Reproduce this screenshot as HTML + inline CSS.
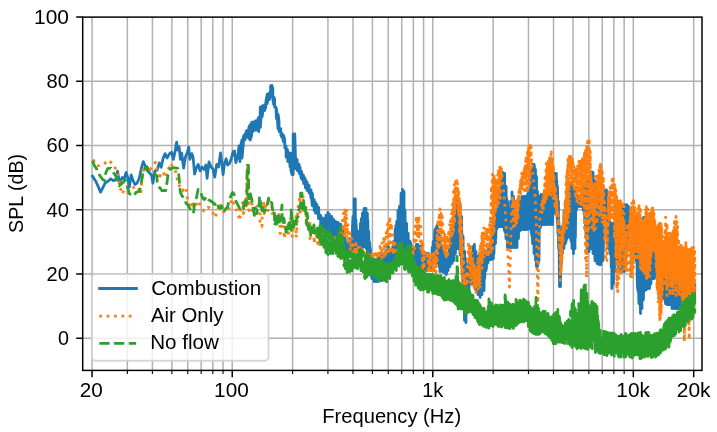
<!DOCTYPE html>
<html><head><meta charset="utf-8"><style>
html,body{margin:0;padding:0;background:#fff;overflow:hidden}
svg{display:block}
.t{font-family:"Liberation Sans", sans-serif;font-size:19.4px;fill:#000}
svg{will-change:transform}
</style></head><body>
<svg width="717" height="432" viewBox="0 0 717 432">
<rect width="717" height="432" fill="#fff"/>
<path d="M92.05 17.10V370.40M127.37 17.10V370.40M152.42 17.10V370.40M171.86 17.10V370.40M187.74 17.10V370.40M201.16 17.10V370.40M212.79 17.10V370.40M223.05 17.10V370.40M232.23 17.10V370.40M292.60 17.10V370.40M327.92 17.10V370.40M352.97 17.10V370.40M372.41 17.10V370.40M388.29 17.10V370.40M401.71 17.10V370.40M413.34 17.10V370.40M423.60 17.10V370.40M432.78 17.10V370.40M493.15 17.10V370.40M528.47 17.10V370.40M553.52 17.10V370.40M572.96 17.10V370.40M588.84 17.10V370.40M602.26 17.10V370.40M613.89 17.10V370.40M624.15 17.10V370.40M633.33 17.10V370.40M693.70 17.10V370.40M82.70 338.28H702.00M82.70 274.05H702.00M82.70 209.81H702.00M82.70 145.57H702.00M82.70 81.34H702.00" stroke="#b0b0b0" stroke-width="1.48" fill="none"/>
<path d="M91.7 174.9L96.2 182.0L100.6 192.1L105.1 183.2L107.7 181.3L110.8 178.8L113.4 180.7L115.9 179.4L117.6 171.1L119.4 183.2L122.3 177.5L124.2 179.0L126.1 172.4L128.0 178.1L129.3 187.0L131.2 174.9L133.1 180.7L135.0 184.5L137.0 183.2L139.5 177.5L141.4 168.0L143.3 161.6L145.2 166.0L147.1 170.5L149.7 173.0L151.6 175.5L152.9 183.2L154.8 171.1L157.3 170.0L159.2 162.8L161.2 167.3L163.1 158.4L165.1 153.6L167.0 158.0L169.6 153.6L171.5 152.3L173.4 159.3L175.3 150.4L176.6 142.1L177.8 150.0L179.1 146.6L180.4 159.3L181.7 153.0L183.6 168.2L185.5 156.8L187.4 152.3L188.7 147.2L189.9 159.3L191.8 153.6L193.1 157.0L194.6 174.0L196.3 168.2L198.2 164.4L200.1 170.8L202.0 167.0L204.0 169.5L205.9 165.0L207.1 178.4L209.0 161.8L211.0 166.9L212.9 168.8L214.8 177.1L216.7 164.4L218.6 167.0L220.5 152.9L221.8 162.5L223.1 174.6L224.3 164.4L226.2 158.7L227.5 165.0L229.4 163.7L231.3 158.7L233.2 151.7L234.5 151.0L235.8 162.5L237.7 156.8L239.0 146.0L240.0 161.6L240.1 148.4L241.9 140.0L242.0 158.0L243.3 144.6L243.4 136.4L244.7 134.4L244.8 140.0L246.0 136.6L246.1 131.4L247.4 130.3L247.5 135.1L248.8 138.6L248.9 127.4L250.2 124.7L250.2 140.0L251.6 135.6L251.7 122.4L253.0 122.0L253.1 131.6L254.6 122.2L255.8 120.6L255.9 130.3L257.3 120.7L258.6 117.4L258.7 131.6L260.1 116.7L260.3 107.2L260.4 127.1L261.8 107.4L262.1 105.8L262.2 116.6L263.5 106.2L264.4 104.9L264.4 110.6L265.8 107.2L265.9 101.6L267.2 94.2L267.2 103.5L268.5 94.8L269.1 93.3L269.2 99.7L270.5 96.0L270.6 85.9L271.8 94.2L271.9 94.2L271.9 85.4L272.8 88.7L272.9 99.7L273.7 104.4L273.8 97.0L274.6 98.8L274.7 107.2L275.8 106.9L276.0 107.2L276.1 111.8L276.5 118.6L276.6 109.4L277.7 124.0L278.0 128.6L278.1 114.4L279.0 120.4L279.1 131.6L280.2 128.4L280.8 128.7L280.9 135.2L282.0 137.5L282.1 133.4L283.1 140.6L283.7 142.1L283.8 135.7L284.8 140.3L284.9 147.9L285.9 146.1L286.0 146.1L286.1 157.2L287.1 149.1L287.7 150.7L287.8 161.6L288.8 155.7L289.8 163.0L290.0 166.6L290.1 153.0L291.0 170.7L292.0 174.6L292.1 153.4L293.0 156.5L293.2 174.6L293.2 134.0L294.2 153.6L294.7 168.6L294.8 134.0L295.5 157.4L295.6 168.6L296.5 160.9L297.2 159.4L297.2 170.6L298.2 163.8L299.1 164.4L299.2 173.6L300.0 167.2L301.0 177.5L301.5 178.6L301.6 171.4L302.4 179.8L303.3 175.0L303.5 175.4L303.6 183.6L304.4 177.4L305.3 179.1L305.4 187.8L306.2 180.8L307.0 190.3L307.2 190.6L307.2 182.4L308.0 190.8L308.9 185.9L309.1 185.5L309.2 192.9L309.9 190.2L310.8 196.3L311.0 198.0L311.1 190.0L311.8 200.6L312.3 205.6L312.4 193.4L313.1 206.2L313.9 201.0L314.2 199.5L314.2 210.6L315.0 202.4L315.5 202.4L315.6 213.3L316.3 203.9L316.8 204.4L316.9 212.6L317.6 210.5L318.3 212.6L318.5 218.6L318.6 207.4L319.2 217.5L320.0 215.9L320.6 215.4L320.7 226.6L321.3 217.1L322.0 229.3L322.5 230.6L322.6 218.4L323.2 231.5L324.0 233.6L324.1 218.4L324.7 233.9L325.4 221.6L326.0 215.4L326.1 234.6L326.7 215.9L327.4 227.9L327.8 236.6L327.9 212.4L328.5 235.6L329.1 225.1L329.5 214.4L329.6 238.6L330.2 223.7L330.8 239.8L331.5 216.7L331.7 216.4L331.8 240.6L332.3 227.3L333.0 239.4L333.5 242.6L333.6 219.4L334.1 232.1L334.8 222.5L335.4 244.4L335.5 244.6L335.6 221.4L336.1 240.5L336.7 229.1L337.3 245.2L338.0 246.6L338.1 222.4L338.6 247.0L339.2 224.5L339.8 236.6L340.4 231.0L340.6 224.1L340.7 248.6L341.2 225.9L341.8 248.9L342.3 229.2L342.9 250.4L343.1 250.6L343.2 231.4L343.7 245.6L344.2 235.8L344.8 250.1L345.0 252.6L345.1 238.4L345.5 251.9L346.1 242.1L346.6 251.5L346.9 254.6L346.9 244.4L347.4 255.4L348.0 250.1L348.2 249.4L348.2 256.6L348.7 245.0L349.3 255.2L349.5 256.6L349.6 238.4L350.0 256.2L350.5 240.6L351.1 249.1L351.5 256.6L351.6 241.4L352.0 249.0L352.5 225.9L353.0 216.4L353.1 256.6L353.5 226.4L354.0 248.9L354.2 248.6L354.2 199.0L354.7 243.9L355.2 216.4L355.3 199.0L355.4 246.6L355.8 219.4L356.3 226.4L356.4 246.6L356.8 230.0L357.3 240.8L357.8 248.6L357.9 237.4L358.3 249.1L358.7 233.2L359.0 231.4L359.1 250.6L359.5 235.3L359.9 249.3L360.4 250.6L360.4 223.4L360.9 248.8L361.3 218.6L361.8 249.0L362.3 248.6L362.4 213.4L362.8 242.0L363.2 212.1L363.6 240.4L364.1 211.3L364.2 208.4L364.2 246.6L364.6 212.4L365.1 229.6L365.5 213.0L366.0 208.4L366.1 248.6L366.4 216.6L366.9 236.6L367.3 213.7L367.4 213.4L367.4 253.6L367.8 219.7L368.2 245.7L368.7 263.6L368.8 231.4L369.1 256.8L369.5 242.0L370.0 246.4L370.1 274.6L370.4 248.9L370.8 269.2L371.2 263.4L371.6 277.4L372.0 278.6L372.1 256.4L372.4 269.2L372.8 266.2L373.2 276.4L373.6 260.8L374.0 259.4L374.1 281.6L374.4 259.5L374.8 281.6L375.2 269.7L375.6 281.0L376.0 264.9L376.4 259.4L376.4 281.6L376.8 259.6L377.2 273.7L377.6 261.9L378.0 280.6L378.4 256.9L378.5 256.4L378.6 281.6L378.9 262.4L379.3 281.1L379.7 255.3L380.1 276.6L380.5 280.6L380.6 253.4L380.9 271.0L381.3 259.8L381.7 279.6L382.0 280.6L382.1 256.4L382.4 268.3L382.8 255.6L383.2 271.0L383.6 254.5L384.0 253.4L384.1 264.6L384.4 254.1L384.8 264.6L385.2 252.4L385.6 263.7L386.0 264.6L386.1 251.4L386.4 262.3L386.8 249.9L387.2 263.6L387.6 254.6L388.0 256.3L388.4 264.6L388.4 246.4L388.8 260.8L389.2 251.7L389.6 261.8L390.0 249.1L390.3 249.4L390.4 264.6L390.7 249.9L391.1 264.6L391.5 256.5L391.9 261.3L392.0 264.6L392.1 251.4L392.4 257.2L392.8 246.1L393.2 260.3L393.5 264.6L393.6 241.4L393.9 261.5L394.3 242.9L394.7 262.9L395.0 264.6L395.1 229.4L395.4 246.1L395.8 225.7L396.2 258.5L396.6 233.5L396.7 221.4L396.8 264.6L397.1 236.9L397.5 251.0L397.9 224.5L398.0 210.4L398.1 264.6L398.4 226.7L398.8 241.0L399.2 210.7L399.5 206.4L399.6 264.6L399.9 217.3L400.3 237.9L400.7 221.7L401.0 193.4L401.1 263.6L401.4 198.5L401.8 239.9L402.2 216.7L402.5 189.4L402.6 260.6L402.9 201.3L403.3 245.2L403.7 195.8L404.0 191.4L404.1 256.6L404.4 209.1L404.8 247.5L405.0 256.6L405.1 211.4L405.4 257.5L405.8 226.2L406.2 240.7L406.5 260.6L406.6 223.4L406.9 247.5L407.3 237.1L407.7 260.3L408.1 241.1L408.2 233.4L408.2 263.6L408.6 240.0L409.0 261.4L409.4 247.7L409.8 264.4L410.0 264.6L410.1 241.4L410.4 258.4L410.8 243.4L411.2 261.0L411.6 247.6L412.0 246.4L412.1 264.6L412.4 247.7L412.8 260.6L413.2 250.9L413.6 261.8L413.9 264.6L413.9 250.4L414.3 258.5L414.7 249.0L415.1 266.5L415.5 247.5L415.9 262.7L416.3 245.1L416.4 244.4L416.4 268.6L416.8 244.7L417.2 258.7L417.6 249.7L418.0 244.4L418.1 268.6L418.4 247.0L418.8 259.2L419.2 246.4L419.6 263.5L420.0 246.2L420.4 266.5L420.8 253.5L421.0 246.4L421.1 268.6L421.4 256.3L421.8 261.1L422.2 250.7L422.6 266.4L423.0 252.0L423.4 270.0L423.8 255.1L424.0 253.4L424.1 270.6L424.4 259.4L424.8 264.4L425.2 257.7L425.6 262.8L426.0 270.6L426.1 253.4L426.4 269.6L426.8 253.6L427.2 268.0L427.6 254.0L428.0 268.6L428.4 268.6L428.4 253.4L428.8 267.6L429.2 257.2L429.6 267.7L430.0 256.0L430.4 265.1L430.8 263.1L431.0 256.4L431.1 270.6L431.4 255.0L431.8 267.8L432.2 247.4L432.6 257.2L433.0 263.6L433.1 241.4L433.4 262.6L433.8 242.9L434.2 256.3L434.6 233.1L435.0 229.4L435.1 258.6L435.4 238.1L435.8 259.4L436.2 227.3L436.6 256.7L437.0 260.6L437.1 225.4L437.4 261.8L437.8 239.4L438.2 263.2L438.6 229.0L439.0 229.4L439.1 266.6L439.4 233.4L439.8 264.0L440.0 271.6L440.1 239.4L440.4 268.5L440.8 247.7L441.2 265.5L441.6 253.1L442.0 245.4L442.1 271.6L442.4 258.7L442.8 266.8L443.2 252.4L443.6 270.4L444.0 272.6L444.1 256.4L444.4 272.7L444.8 258.8L445.2 272.1L445.6 264.5L446.0 274.2L446.3 274.6L446.4 263.4L446.7 273.2L447.1 259.5L447.5 268.0L447.9 256.3L448.0 253.4L448.1 270.6L448.4 254.5L448.8 263.2L449.2 247.9L449.6 260.0L450.0 266.6L450.1 241.4L450.4 254.9L450.8 236.7L451.2 251.5L451.6 240.2L452.0 229.4L452.1 263.6L452.4 226.1L452.8 258.3L453.2 227.0L453.6 242.1L454.0 260.6L454.1 211.4L454.4 255.2L454.8 214.3L455.2 235.1L455.5 253.6L455.6 201.4L455.9 236.0L456.3 223.1L456.7 244.3L457.0 248.6L457.1 200.0L457.4 238.3L457.8 201.2L458.2 236.0L458.5 248.6L458.6 200.4L458.9 233.6L459.3 212.1L459.7 239.8L460.0 253.6L460.1 203.4L460.4 255.2L460.8 230.0L461.2 238.6L461.5 263.6L461.6 216.4L461.9 248.5L462.3 235.0L462.7 273.1L463.0 298.6L463.1 236.4L463.4 301.2L463.8 271.7L464.2 291.4L464.5 320.6L464.6 251.4L464.9 317.1L465.3 258.0L465.7 316.3L466.0 322.6L466.1 263.4L466.4 309.5L466.8 279.0L467.2 302.5L467.5 303.6L467.6 266.4L467.9 299.6L468.3 274.2L468.7 291.6L469.0 288.6L469.1 261.4L469.4 278.7L469.8 258.6L470.2 284.0L470.6 264.2L471.0 253.4L471.1 283.6L471.4 252.3L471.8 283.2L472.2 253.8L472.6 274.2L473.0 283.6L473.1 246.4L473.4 270.9L473.8 254.7L474.2 267.7L474.3 286.6L474.4 244.4L474.7 282.5L475.1 266.1L475.5 289.3L475.9 251.9L476.0 251.4L476.1 290.6L476.4 257.8L476.8 290.6L477.2 264.6L477.6 286.0L478.0 294.6L478.1 256.4L478.4 289.8L478.8 269.6L479.2 289.9L479.6 256.1L480.0 253.4L480.1 297.6L480.4 256.2L480.8 280.8L481.2 269.9L481.6 294.3L482.0 294.6L482.1 251.4L482.4 278.3L482.8 270.5L483.2 286.4L483.6 256.6L484.0 249.4L484.1 290.6L484.4 250.5L484.8 278.0L485.2 254.1L485.6 270.3L486.0 270.6L486.1 251.4L486.4 269.0L486.8 258.5L487.2 263.7L487.6 250.9L488.0 249.4L488.1 262.6L488.4 252.9L488.8 259.1L489.2 248.9L489.6 256.6L489.7 259.6L489.8 246.4L490.1 259.6L490.5 243.4L490.9 257.7L491.3 246.2L491.5 233.4L491.6 259.6L491.9 242.8L492.3 258.0L492.7 228.4L493.1 258.5L493.4 258.6L493.4 219.4L493.8 252.3L494.0 253.6L494.1 226.4L494.4 241.9L494.8 232.1L495.2 242.5L495.5 243.6L495.6 216.4L495.9 238.3L496.3 211.5L496.7 227.2L497.0 228.6L497.1 206.4L497.4 216.7L497.8 197.0L498.2 216.4L498.5 226.6L498.6 188.4L498.9 226.6L499.3 188.1L499.7 225.6L500.0 226.6L500.1 186.4L500.4 216.7L500.8 184.9L501.2 223.7L501.5 226.6L501.6 179.4L501.9 217.2L502.3 176.1L502.7 212.6L503.0 226.6L503.1 172.7L503.4 227.3L503.8 180.3L504.2 228.0L504.5 230.6L504.6 173.4L504.9 231.7L505.3 188.0L505.7 231.9L506.0 238.6L506.1 186.4L506.4 237.4L506.8 198.6L507.2 239.2L507.5 247.6L507.6 201.4L507.9 247.1L508.3 207.6L508.7 240.0L509.0 247.6L509.1 211.4L509.4 239.7L509.8 211.9L510.2 231.6L510.5 247.6L510.6 201.4L510.9 238.5L511.3 215.2L511.7 246.2L512.0 247.6L512.0 192.1L512.4 232.7L512.8 211.9L513.2 226.4L513.5 247.6L513.5 196.4L513.9 245.1L514.3 201.5L514.7 227.5L515.0 247.6L515.0 201.4L515.4 246.5L515.8 225.4L516.2 230.6L516.6 205.8L517.0 206.4L517.0 247.6L517.4 208.8L517.8 233.9L518.2 211.4L518.5 211.4L518.5 238.6L518.9 208.9L519.3 224.5L519.7 206.0L520.0 201.4L520.0 230.6L520.4 209.8L520.8 230.0L521.2 201.0L521.6 222.2L522.0 229.6L522.0 196.4L522.4 229.6L522.8 197.1L523.2 221.9L523.6 210.2L524.0 196.4L524.0 229.6L524.4 212.0L524.8 229.4L525.2 200.6L525.6 220.1L526.0 229.6L526.0 196.4L526.4 225.3L526.8 203.3L527.2 229.0L527.6 194.1L528.0 193.4L528.0 229.6L528.4 192.8L528.8 228.4L529.2 196.6L529.6 222.3L530.0 226.6L530.0 189.4L530.4 221.4L530.8 180.3L531.2 231.2L531.5 233.6L531.5 171.4L531.9 236.2L532.3 192.6L532.5 164.4L532.5 243.6L532.9 204.5L533.3 212.6L533.7 164.6L534.0 164.2L534.0 253.6L534.4 165.7L534.8 216.4L535.2 178.0L535.5 169.4L535.5 260.6L535.9 198.7L536.3 260.6L536.5 266.6L536.5 176.4L536.9 257.4L537.3 198.8L537.5 191.4L537.5 266.6L537.9 199.7L538.3 251.0L538.7 196.2L539.0 197.4L539.0 260.6L539.4 210.7L539.8 228.1L540.2 196.3L540.6 227.3L541.0 223.6L541.0 194.4L541.4 215.8L541.8 196.8L542.2 223.6L542.6 194.8L543.0 194.4L543.0 224.6L543.4 197.8L543.8 224.6L544.2 205.4L544.6 214.1L545.0 224.6L545.0 191.4L545.4 216.4L545.8 203.7L546.2 218.0L546.6 194.1L547.0 191.4L547.0 224.6L547.4 197.4L547.8 220.4L548.2 207.4L548.6 213.9L549.0 224.6L549.0 191.4L549.4 223.5L549.8 205.2L550.2 215.4L550.6 201.4L551.0 191.4L551.0 224.6L551.4 201.5L551.8 221.7L552.2 202.3L552.5 186.4L552.5 224.6L552.9 198.6L553.3 209.8L553.7 190.0L554.0 177.4L554.0 213.6L554.4 186.4L554.8 206.1L555.2 206.6L555.2 173.4L555.6 198.5L556.0 173.5L556.3 173.4L556.3 208.6L556.7 179.8L557.1 214.6L557.5 223.6L557.5 186.4L557.9 233.6L558.3 201.2L558.5 201.4L558.5 248.6L558.9 222.1L559.3 267.8L559.5 286.6L559.5 226.4L559.9 285.1L560.3 259.9L560.5 241.4L560.5 286.6L560.9 249.1L561.3 264.4L561.5 260.6L561.5 241.4L561.9 252.9L562.3 233.5L562.5 226.4L562.5 253.6L562.9 226.6L563.3 248.5L563.7 232.0L564.0 211.4L564.0 248.6L564.4 216.7L564.8 236.1L565.2 215.3L565.5 201.4L565.5 243.6L565.9 219.6L566.3 240.9L566.7 202.1L567.0 191.4L567.0 238.6L567.4 202.9L567.8 236.0L568.2 190.2L568.6 184.4L568.6 236.6L569.0 184.0L569.4 236.5L569.8 186.9L570.3 182.4L570.3 238.6L570.7 182.9L571.1 241.4L571.5 208.8L571.9 238.2L572.0 248.6L572.0 183.4L572.4 241.5L572.8 216.0L573.2 241.8L573.5 253.6L573.5 186.4L573.9 220.3L574.3 201.7L574.7 230.2L575.0 248.6L575.0 191.4L575.4 237.8L575.8 200.0L576.2 210.5L576.5 208.6L576.5 196.4L576.9 208.1L577.3 201.2L577.7 206.9L578.0 206.6L578.0 196.4L578.4 205.5L578.8 196.5L579.2 205.4L579.6 198.3L580.0 196.4L580.0 206.6L580.4 195.4L580.8 201.2L581.2 194.6L581.6 204.6L582.0 206.6L582.0 191.4L582.4 204.9L582.8 191.1L583.2 209.9L583.6 193.3L584.0 187.4L584.0 213.6L584.4 191.6L584.8 220.2L585.2 195.9L585.6 227.7L586.0 233.6L586.0 184.4L586.4 238.4L586.8 183.6L587.2 247.9L587.5 251.6L587.5 179.4L587.9 250.7L588.3 198.8L588.7 245.9L589.0 251.6L589.0 176.4L589.4 220.5L589.8 195.9L590.2 249.1L590.5 248.6L590.5 173.4L590.9 211.6L591.3 206.4L591.6 172.0L591.6 248.6L592.0 172.3L592.4 219.0L592.8 179.8L593.0 172.4L593.0 253.6L593.4 183.4L593.8 218.3L594.2 180.2L594.6 248.3L595.0 260.6L595.0 181.4L595.4 226.9L595.8 204.8L596.2 254.1L596.6 223.8L597.0 189.4L597.0 263.6L597.4 215.1L597.8 250.9L598.2 194.1L598.6 250.9L599.0 264.6L599.0 196.4L599.4 257.6L599.8 199.0L600.2 264.5L600.6 208.0L601.0 199.4L601.0 264.6L601.4 200.3L601.8 256.8L602.2 214.3L602.6 255.1L603.0 260.6L603.0 201.4L603.4 251.6L603.8 204.8L604.2 235.3L604.6 203.6L604.8 190.0L604.8 228.6L605.2 195.4L605.6 209.4L606.0 207.5L606.4 218.2L606.5 228.6L606.5 190.0L606.9 231.5L607.3 199.4L607.5 201.4L607.5 238.6L607.9 223.6L608.3 219.4L608.3 248.6L608.7 229.1L609.1 245.0L609.5 222.8L609.9 252.1L610.0 253.6L610.0 221.4L610.4 252.1L610.8 229.7L611.2 267.4L611.6 235.4L611.8 223.3L611.8 288.6L612.2 241.5L612.6 285.1L613.0 225.2L613.4 254.8L613.5 283.6L613.5 223.3L613.9 256.3L614.3 244.3L614.7 271.6L615.1 225.8L615.5 226.4L615.5 263.6L615.9 227.1L616.3 260.1L616.7 232.0L617.1 263.4L617.3 263.6L617.3 223.4L617.7 259.9L618.1 222.2L618.5 221.4L618.5 271.6L618.9 219.5L619.3 259.2L619.7 223.6L620.0 213.4L620.0 271.6L620.4 224.3L620.8 267.4L621.2 217.9L621.6 270.2L622.0 271.6L622.0 209.4L622.4 267.9L622.8 225.9L623.2 249.2L623.6 207.5L624.0 271.1L624.3 271.6L624.3 206.4L624.7 248.3L625.1 217.1L625.5 204.7L625.5 263.6L625.9 220.9L626.3 254.5L626.7 208.9L627.0 204.7L627.0 248.6L627.4 206.5L627.8 230.9L628.2 208.4L628.5 206.4L628.5 238.6L628.9 215.1L629.3 224.1L629.7 215.5L630.0 216.4L630.0 233.6L630.4 220.6L630.8 233.9L631.2 229.9L631.6 243.5L632.0 248.6L632.0 223.4L632.4 248.0L632.8 224.7L633.2 241.9L633.6 225.9L634.0 226.4L634.0 254.6L634.4 227.5L634.8 250.4L635.2 232.4L635.6 248.9L636.0 254.6L636.0 231.4L636.4 261.7L636.8 245.2L637.2 280.0L637.6 288.6L637.6 236.4L638.0 291.6L638.4 251.9L638.8 301.3L639.0 303.6L639.0 241.4L639.4 303.3L639.8 261.1L640.2 295.7L640.5 313.6L640.5 246.4L640.9 309.6L641.3 247.0L641.7 305.6L642.0 308.6L642.0 246.4L642.4 288.2L642.8 235.8L643.2 300.1L643.5 298.6L643.5 217.4L643.9 276.6L644.3 229.9L644.7 260.6L645.0 290.6L645.0 217.4L645.4 258.6L645.8 249.0L646.2 283.2L646.5 289.6L646.5 221.4L646.9 267.9L647.3 227.1L647.7 285.6L648.0 288.6L648.0 226.4L648.4 283.7L648.8 255.1L649.2 265.3L649.5 288.6L649.5 231.4L649.9 285.6L650.3 239.9L650.7 281.6L651.0 283.6L651.0 241.4L651.4 279.8L651.8 250.4L652.2 277.5L652.5 278.6L652.5 253.4L652.9 278.1L653.3 257.4L653.7 270.6L654.0 278.6L654.0 253.4L654.4 274.8L654.8 262.9L655.2 274.4L655.6 256.1L656.0 256.4L656.0 277.6L656.4 264.3L656.8 274.0L657.2 261.4L657.5 261.4L657.5 288.6L657.9 262.7L658.3 290.0L658.7 270.0L659.0 266.4L659.0 298.6L659.4 271.5L659.8 283.1L660.2 273.0L660.6 287.1L661.0 296.6L661.0 266.4L661.4 297.0L661.8 261.7L662.2 283.1L662.6 298.6L662.6 244.4L663.0 298.4L663.4 244.6L663.8 283.9L664.0 298.6L664.0 244.4L664.4 279.9L664.8 256.3L665.2 294.4L665.5 303.6L665.5 266.4L665.9 303.5L666.3 278.8L666.7 297.2L667.0 304.6L667.0 271.4L667.4 303.6L667.8 273.2L668.2 295.3L668.5 304.6L668.5 273.4L668.9 300.4L669.3 282.5L669.7 302.2L670.0 304.6L670.0 273.4L670.4 303.6L670.8 289.0L671.2 299.5L671.6 278.3L672.0 274.4L672.0 308.6L672.4 279.7L672.8 299.9L673.2 283.9L673.6 295.0L674.0 308.6L674.0 276.4L674.4 305.9L674.8 288.2L675.2 301.8L675.6 289.7L676.0 279.4L676.0 308.6L676.4 289.1L676.8 298.7L677.2 291.7L677.6 295.9L678.0 308.6L678.0 281.4L678.4 302.8L678.8 285.4L679.2 301.0L679.6 290.2L680.0 282.4L680.0 306.6L680.4 284.5L680.8 303.4L681.2 282.6L681.6 298.2L682.0 303.6L682.0 282.4L682.4 293.0L682.8 284.2L683.2 301.5L683.6 283.6L684.0 283.4L684.0 300.6L684.4 284.9L684.8 299.1L685.2 290.9L685.6 299.0L686.0 298.6L686.0 283.4L686.4 297.5L686.8 283.5L687.2 294.5L687.6 287.5L688.0 283.4L688.0 296.6L688.4 283.6L688.8 296.2L689.2 284.7L689.6 293.7L690.0 295.6L690.0 283.4L690.4 290.4L690.8 283.4L691.2 294.9L691.6 283.6L692.0 283.4L692.0 294.6L692.4 283.7L692.8 294.0L693.2 286.2L693.6 292.1L694.0 283.7L694.4 293.5L694.7 293.6L694.8 283.4" fill="none" stroke="#1f77b4" stroke-width="2.78" stroke-linejoin="round" stroke-linecap="butt"/>
<path d="M93.0 159.6L97.5 166.0L103.2 164.4L108.7 160.3L114.0 165.4L117.2 172.4L118.9 179.4L120.1 186.4L121.7 194.0L124.5 190.0L127.4 192.8L130.0 189.0L133.1 187.7L136.0 186.0L138.2 188.3L140.8 194.0L142.7 170.5L147.0 170.0L151.0 168.6L155.4 162.2L156.7 168.6L158.6 175.6L159.2 179.4L161.2 172.4L163.2 172.1L165.7 177.8L168.0 170.0L170.8 163.2L172.7 167.0L175.9 172.1L177.2 179.1L179.5 186.0L182.3 191.2L184.0 189.0L186.1 187.4L186.8 195.0L188.0 202.0L191.2 208.4L192.5 204.0L195.0 206.5L198.2 200.8L200.8 207.1L204.0 211.0L208.4 207.1L212.2 211.6L215.1 217.6L219.9 203.3L222.4 211.0L225.0 212.9L229.4 207.7L232.0 198.9L234.0 204.6L236.4 209.7L240.2 220.6L240.2 211.4L243.0 201.4L243.1 213.6L246.0 208.6L246.1 194.4L247.7 164.4L247.8 198.6L249.0 210.6L249.1 196.4L252.0 201.4L252.1 210.6L255.0 205.4L256.0 206.4L256.1 213.6L259.0 210.3L260.0 206.4L260.1 224.6L262.0 226.6L262.1 216.4L264.0 201.4L264.1 213.6L267.0 201.7L268.0 201.4L268.1 210.6L271.0 205.8L272.0 206.4L272.1 213.6L274.9 212.1L276.0 213.4L276.1 226.6L278.7 214.8L280.0 213.4L280.1 233.6L282.6 221.9L284.0 219.4L284.1 238.6L286.5 225.5L288.0 223.4L288.1 236.6L290.4 219.4L292.0 216.4L292.1 236.6L294.3 219.5L296.0 216.4L296.1 237.6L298.2 206.4L300.0 196.4L300.1 213.6L302.1 196.8L303.0 193.4L303.1 210.6L305.0 205.4L306.0 206.4L306.1 223.6L307.9 216.9L309.8 231.6L310.0 238.6L310.1 223.4L311.8 232.5L313.7 230.2L314.0 226.4L314.1 243.6L315.8 230.8L317.5 242.6L318.0 243.6L318.1 229.4L319.7 236.5L320.0 244.6L320.1 227.4L321.6 229.4L323.0 244.6L323.1 229.4L324.6 241.9L326.0 246.6L326.1 231.4L327.5 240.2L329.0 246.6L329.1 233.4L330.5 235.8L332.0 246.6L332.1 236.4L333.4 237.0L334.8 237.4L335.0 237.4L335.1 244.6L336.4 238.3L337.8 240.1L338.0 244.6L338.1 237.4L339.3 235.7L340.7 231.5L341.0 226.4L341.1 244.6L342.3 221.7L343.5 213.4L343.6 238.6L344.8 210.4L345.0 207.4L345.1 234.6L346.2 213.0L346.5 209.4L346.6 238.6L347.7 224.4L348.0 223.4L348.1 243.6L349.2 229.8L350.0 233.4L350.1 250.6L351.2 238.2L352.0 239.4L352.1 252.6L353.1 241.9L354.0 241.4L354.1 254.6L355.1 245.4L356.0 243.4L356.1 254.6L357.1 245.5L358.0 245.4L358.1 254.6L359.1 248.3L360.0 247.4L360.1 254.6L361.0 249.4L362.0 249.4L362.1 256.6L363.0 250.6L364.0 252.0L365.0 256.6L365.1 251.4L366.0 252.5L367.0 253.4L368.0 253.4L368.1 258.6L368.9 254.3L369.9 253.9L370.8 253.5L371.0 253.4L371.1 259.6L371.9 254.7L372.8 258.9L373.7 254.7L374.0 253.4L374.1 259.6L374.9 253.7L375.8 255.3L376.6 253.0L377.0 251.4L377.1 258.6L377.9 251.5L378.7 253.7L379.5 249.4L380.0 246.4L380.1 258.6L380.8 246.5L381.6 257.2L382.0 258.6L382.1 241.4L382.8 239.4L383.6 240.7L384.0 236.4L384.1 258.6L384.8 235.4L385.6 246.6L386.0 256.6L386.1 231.4L386.8 236.2L387.5 225.6L388.0 223.4L388.1 254.6L388.8 224.4L389.5 221.0L389.8 253.6L389.9 218.9L390.5 224.1L391.3 229.5L391.5 223.4L391.6 253.6L392.2 231.4L393.0 236.4L393.1 254.6L393.7 240.7L394.4 242.6L395.0 254.6L395.1 243.4L395.7 247.3L396.4 249.2L397.0 249.4L397.1 254.6L397.7 250.1L398.4 252.0L399.0 256.6L399.1 251.4L399.7 255.8L400.3 251.7L401.0 253.6L401.6 252.7L402.0 251.4L402.1 258.6L402.6 252.3L403.3 252.4L403.9 252.0L404.5 251.5L405.0 260.6L405.1 251.4L405.6 256.4L406.2 253.4L406.8 256.2L407.5 252.5L408.0 251.4L408.1 260.6L408.6 251.5L409.2 254.5L409.8 253.2L410.4 251.4L411.0 260.6L411.1 251.4L411.6 254.7L412.2 250.6L412.7 248.2L413.0 256.6L413.1 246.4L413.6 245.3L414.1 235.0L414.5 229.4L414.6 248.6L415.1 229.6L415.6 221.2L416.2 221.1L416.4 215.4L416.4 240.6L416.9 220.3L417.5 235.9L418.0 217.5L418.6 233.7L418.8 238.6L418.9 215.3L419.3 226.8L419.9 223.0L420.4 225.9L420.7 248.6L420.8 226.4L421.2 249.0L421.7 239.1L422.2 259.2L422.6 270.6L422.7 241.4L423.1 270.3L423.6 251.0L424.0 251.4L424.1 272.6L424.5 255.5L425.0 256.6L425.5 252.4L426.0 252.8L426.5 253.5L427.0 253.9L427.4 256.7L428.0 251.4L428.1 273.6L428.5 254.5L429.0 269.3L429.4 254.3L429.9 266.3L430.4 256.7L430.8 264.0L431.0 273.6L431.1 251.4L431.5 267.6L431.9 252.5L432.4 252.7L432.8 255.3L433.3 271.7L433.7 255.3L434.0 253.4L434.1 273.6L434.4 256.7L434.9 256.5L435.3 257.0L435.8 264.7L436.0 272.6L436.1 251.4L436.4 265.4L436.9 240.2L437.3 233.5L437.5 260.6L437.6 223.4L437.9 226.3L438.4 218.6L438.8 249.7L439.2 212.9L439.6 217.1L439.8 248.6L439.9 208.9L440.2 211.7L440.6 214.8L441.0 213.4L441.1 244.6L441.4 217.1L441.8 221.5L442.0 243.6L442.1 213.4L442.4 223.6L442.8 224.0L443.2 235.5L443.5 250.6L443.6 229.4L443.9 248.0L444.3 234.5L444.7 234.3L445.0 254.6L445.1 235.4L445.4 254.1L445.8 237.7L446.2 238.1L446.3 257.6L446.4 237.4L446.7 239.1L447.1 236.8L447.5 235.4L447.6 254.6L447.9 238.8L448.3 247.4L448.6 233.3L449.0 229.4L449.1 250.6L449.4 229.7L449.7 224.8L450.1 224.2L450.5 219.4L450.6 243.6L450.9 220.8L451.2 222.7L451.5 238.6L451.6 213.4L451.9 223.5L452.2 211.7L452.5 204.4L452.6 233.6L452.9 205.2L453.2 202.9L453.5 230.6L453.6 191.4L453.9 194.9L454.2 187.2L454.5 184.4L454.6 223.6L454.9 187.3L455.2 203.4L455.5 208.6L455.6 181.4L455.8 183.8L456.2 184.9L456.5 192.5L456.7 203.6L456.8 180.6L457.0 181.8L457.4 185.4L457.5 183.4L457.6 198.6L457.8 186.5L458.2 199.7L458.5 213.6L458.6 189.4L458.8 217.5L459.2 197.4L459.5 196.4L459.6 233.6L459.8 201.5L460.2 214.4L460.5 253.6L460.6 206.4L460.8 254.3L461.2 226.6L461.5 221.4L461.6 273.6L461.8 238.9L462.1 268.3L462.5 288.6L462.6 241.4L462.8 252.5L463.1 261.2L463.5 261.4L463.6 298.6L463.8 271.6L464.1 275.0L464.5 310.6L464.6 276.4L464.8 292.7L465.1 288.6L465.5 286.4L465.6 313.6L465.8 289.4L466.1 292.0L466.4 277.5L466.7 271.6L467.0 303.6L467.1 266.4L467.3 284.8L467.6 261.9L467.9 257.6L468.2 247.4L468.5 241.4L468.6 278.6L468.8 248.8L469.1 247.1L469.4 247.1L469.7 263.8L470.0 245.2L470.3 256.8L470.5 283.6L470.6 246.4L470.8 274.2L471.1 257.6L471.4 263.1L471.7 253.0L472.0 260.9L472.2 256.5L472.5 256.4L472.6 286.6L472.8 261.5L473.1 262.9L473.4 263.8L473.6 277.7L473.9 265.0L474.2 266.8L474.5 290.6L474.6 266.4L474.8 286.1L475.1 268.8L475.3 269.4L475.6 272.9L475.9 289.9L476.1 292.6L476.2 271.4L476.4 280.7L476.6 270.0L476.9 281.9L477.2 269.0L477.5 269.1L477.7 262.1L478.0 257.4L478.1 290.6L478.3 257.2L478.5 285.1L478.8 257.7L479.1 284.2L479.3 255.3L479.6 251.1L479.9 256.7L480.0 246.4L480.1 288.6L480.3 248.7L480.5 243.8L480.8 249.7L481.0 248.9L481.3 243.7L481.6 262.2L481.8 237.1L482.0 233.4L482.1 268.6L482.3 233.0L482.5 257.1L482.8 238.2L483.0 240.6L483.3 230.0L483.5 230.3L483.8 234.3L484.0 227.8L484.1 258.6L484.3 232.8L484.5 233.3L484.7 233.8L485.0 235.1L485.2 232.1L485.5 231.9L485.7 231.9L486.0 229.4L486.1 256.6L486.2 235.5L486.5 233.4L486.7 234.4L487.0 229.4L487.2 234.9L487.5 229.4L487.6 256.6L487.7 235.1L488.0 237.6L488.2 229.4L488.5 232.7L488.7 233.3L489.0 227.4L489.1 253.6L489.2 228.1L489.5 225.0L489.7 225.0L489.9 229.3L490.2 224.5L490.5 216.4L490.6 253.6L490.7 219.0L491.0 218.8L491.2 206.0L491.5 186.4L491.6 248.6L491.7 187.8L492.0 183.8L492.2 182.3L492.5 174.4L492.6 248.6L492.7 180.8L493.0 215.8L493.2 175.6L493.4 185.4L493.6 188.7L493.9 179.8L494.0 233.6L494.1 174.4L494.2 180.5L494.4 179.2L494.7 221.9L494.9 179.9L495.1 178.5L495.3 184.2L495.5 179.4L495.6 213.6L495.7 182.9L495.9 201.7L496.2 185.2L496.4 197.5L496.6 183.2L496.8 189.1L497.0 209.6L497.1 179.4L497.2 189.4L497.4 180.5L497.6 178.8L497.9 174.0L498.1 174.3L498.3 175.4L498.5 169.4L498.6 203.6L498.7 173.5L498.9 180.3L499.1 168.5L499.3 182.5L499.6 172.0L499.8 177.9L500.0 164.9L500.2 164.0L500.2 198.6L500.4 170.5L500.6 170.9L500.8 167.7L501.0 178.2L501.2 178.6L501.2 166.4L501.4 168.9L501.6 171.6L501.8 175.3L502.0 175.0L503.5 190.0L505.0 208.0L506.5 230.0L508.0 255.0L509.5 287.0L510.5 250.0L511.5 215.0L512.5 198.0L513.5 226.6L513.5 199.4L513.7 206.2L513.9 205.0L514.0 200.9L514.2 204.3L514.4 221.0L514.6 202.9L514.8 204.6L515.0 226.6L515.0 201.4L515.2 206.9L515.4 203.1L515.5 217.8L515.7 203.0L515.9 201.9L516.1 207.1L516.3 218.0L516.5 224.6L516.5 201.4L516.7 207.0L516.9 204.7L517.0 214.7L517.2 204.9L517.4 214.8L517.6 200.4L517.8 197.8L518.0 220.6L518.0 196.4L518.2 200.8L518.4 197.2L518.5 201.4L518.7 193.2L518.9 195.7L519.0 208.6L519.0 191.4L519.2 195.6L519.4 191.3L519.5 201.7L519.7 187.8L519.9 192.9L520.1 186.5L520.3 188.1L520.5 193.6L520.5 179.4L520.7 185.2L520.9 179.2L521.0 187.2L521.2 179.5L521.4 185.3L521.6 177.2L521.8 173.1L521.8 190.6L522.0 175.1L522.2 174.1L522.3 177.6L522.5 184.6L522.7 175.7L522.9 184.3L523.0 190.6L523.0 176.4L523.2 177.5L523.4 177.6L523.5 177.4L523.7 171.8L523.9 172.0L524.1 170.3L524.3 176.5L524.5 190.6L524.5 166.4L524.7 165.5L524.9 164.6L525.0 180.3L525.2 167.0L525.4 171.6L525.6 165.3L525.8 159.5L526.0 190.6L526.0 156.4L526.2 156.3L526.4 162.4L526.5 160.2L526.7 156.2L526.9 188.7L527.1 159.8L527.3 189.7L527.5 190.6L527.5 149.4L527.7 179.5L527.9 153.6L528.0 164.6L528.2 149.4L528.4 165.2L528.6 147.8L528.8 158.4L529.0 188.6L529.0 144.4L529.2 175.6L529.4 147.6L529.5 148.0L529.7 147.3L529.9 148.7L530.1 183.6L530.1 142.4L530.3 149.7L530.5 146.5L530.6 161.3L530.8 149.7L531.0 146.4L531.0 168.6L531.2 152.8L531.4 153.8L531.5 157.8L531.7 163.8L531.9 163.2L532.0 165.0L533.5 180.0L535.0 195.0L536.0 215.0L537.0 260.0L537.8 303.0L538.6 260.0L539.5 225.0L540.5 212.0L542.0 201.4L542.0 212.6L542.2 202.6L542.4 208.2L542.5 200.2L542.7 199.1L542.9 200.6L543.1 198.2L543.3 199.0L543.5 196.4L543.5 208.6L543.7 194.9L543.9 192.3L544.0 190.9L544.2 203.4L544.4 190.1L544.6 199.4L544.8 183.1L545.0 177.4L545.0 203.6L545.2 181.3L545.4 179.3L545.5 178.7L545.7 185.7L545.9 171.6L546.1 167.7L546.3 171.5L546.4 163.4L546.4 198.6L546.6 169.1L546.8 185.0L546.9 167.8L547.1 195.6L547.3 163.1L547.5 180.1L547.7 167.5L547.8 160.4L547.8 195.6L548.0 168.1L548.2 194.3L548.3 163.5L548.5 159.0L548.7 159.2L548.9 168.3L549.1 161.5L549.2 159.7L549.4 158.7L549.6 169.7L549.8 158.7L549.9 155.4L549.9 195.6L550.1 161.4L550.3 170.4L550.4 163.3L550.6 193.5L550.8 158.2L551.0 154.4L551.2 156.5L551.3 151.8L551.3 195.6L551.5 157.7L551.7 183.0L551.8 160.1L552.0 165.1L552.2 156.2L552.4 156.9L552.5 193.6L552.5 156.4L552.7 178.9L552.9 163.8L553.0 170.7L553.2 168.8L553.4 190.3L553.5 198.6L553.5 166.4L553.7 192.6L553.9 174.5L554.0 178.1L554.2 182.1L554.4 200.2L554.6 186.5L554.8 199.0L555.0 208.6L555.0 186.4L555.2 187.8L555.4 193.2L555.5 190.2L555.7 194.8L555.9 200.4L556.1 194.1L556.3 197.8L556.5 218.6L556.5 196.4L556.7 215.9L556.9 202.6L557.0 211.4L557.2 205.7L557.4 212.7L557.6 211.4L557.8 210.5L558.0 230.6L558.0 211.4L558.2 220.7L558.4 220.4L558.5 226.1L558.7 223.8L558.9 234.3L559.1 230.3L559.2 226.4L559.2 248.6L559.4 231.6L559.6 250.4L559.7 241.7L559.9 245.2L560.1 255.3L560.2 251.4L560.2 280.6L560.4 253.8L560.6 251.8L560.7 253.3L561.0 246.4L561.0 273.6L561.2 247.6L561.4 268.0L561.5 240.8L561.7 241.6L561.9 233.7L562.0 231.4L562.0 258.6L562.2 231.5L562.4 242.4L562.5 232.0L562.7 239.9L562.9 225.0L563.0 223.4L563.0 243.6L563.2 225.9L563.4 223.9L563.5 220.1L563.7 230.6L563.9 217.4L564.0 216.4L564.0 233.6L564.2 215.6L564.4 211.4L564.5 213.4L564.7 225.6L564.9 209.3L565.0 201.4L565.0 230.6L565.2 199.6L565.4 222.8L565.5 200.6L565.7 215.6L565.9 192.1L566.1 183.4L566.3 186.5L566.5 176.4L566.5 228.6L566.7 176.1L566.9 218.2L567.0 171.0L567.2 168.4L567.4 170.5L567.6 213.5L567.8 173.2L568.0 159.4L568.0 223.6L568.2 170.9L568.4 163.3L568.5 164.4L568.7 167.5L568.9 162.0L569.1 155.0L569.3 213.6L569.3 153.2L569.5 157.1L569.7 165.3L569.8 162.9L570.0 165.0L570.2 157.8L570.4 164.9L570.6 166.1L570.7 161.3L571.0 156.4L571.0 183.6L571.2 158.5L571.4 173.7L571.5 160.0L571.7 157.9L571.9 163.3L572.1 159.8L572.3 161.4L572.5 159.4L572.5 183.6L572.7 160.3L572.9 161.4L573.0 166.6L573.2 178.7L573.4 167.6L573.6 187.1L573.8 169.3L574.0 166.4L574.0 188.6L574.2 172.1L574.4 173.8L574.5 171.7L574.7 192.0L574.9 169.3L575.1 182.1L575.3 174.2L575.5 167.4L575.5 198.6L575.7 173.0L575.9 187.1L576.0 167.7L576.2 181.0L576.4 169.1L576.6 183.6L576.8 171.0L577.0 165.4L577.0 203.6L577.2 173.1L577.4 188.6L577.5 169.8L577.7 165.8L577.9 170.5L578.1 187.4L578.3 168.4L578.4 165.6L578.6 167.4L578.8 176.4L579.0 204.6L579.0 161.4L579.2 190.2L579.4 166.2L579.5 166.2L579.7 167.6L579.9 163.3L580.1 164.5L580.3 161.8L580.4 160.2L580.6 167.0L580.8 159.8L581.0 159.4L581.0 204.6L581.2 165.7L581.4 203.3L581.5 168.7L581.7 204.0L581.9 159.8L582.1 168.2L582.3 158.8L582.4 182.5L582.6 167.4L582.8 169.3L583.0 206.6L583.0 158.4L583.2 204.4L583.4 162.5L583.5 165.8L583.7 158.4L583.9 170.0L584.1 169.3L584.3 152.9L584.5 228.6L584.5 151.4L584.7 163.6L584.9 166.5L585.0 214.3L585.2 169.6L585.4 237.3L585.5 258.6L585.5 149.4L585.7 184.4L585.9 171.5L586.0 255.1L586.2 169.3L586.4 149.8L586.6 277.6L586.6 146.4L586.8 173.4L587.0 163.8L587.1 189.8L587.3 155.8L587.5 142.5L587.6 248.6L587.6 141.4L587.8 185.2L588.0 143.7L588.1 140.9L588.3 160.3L588.5 166.9L588.7 154.5L588.9 188.3L589.1 228.6L589.1 138.3L589.3 150.0L589.5 153.6L589.6 198.1L589.8 153.4L590.0 185.3L590.2 213.6L590.2 151.4L590.4 187.9L590.6 173.4L590.7 196.3L590.9 175.0L591.1 197.9L591.2 218.6L591.2 176.4L591.4 207.0L591.6 179.8L591.7 199.6L591.9 187.5L592.1 188.1L592.3 185.0L592.5 186.4L592.5 230.6L592.7 195.8L592.9 208.8L593.0 191.5L593.2 219.2L593.4 195.0L593.6 218.4L593.8 185.3L594.0 183.4L594.0 230.6L594.2 188.3L594.4 217.5L594.5 189.7L594.7 182.7L594.9 190.1L595.1 215.4L595.3 186.1L595.5 176.4L595.5 228.6L595.7 180.6L595.9 184.0L596.0 183.8L596.2 187.3L596.4 187.4L596.6 224.5L596.8 183.7L597.0 176.4L597.0 223.6L597.2 180.8L597.4 205.1L597.5 177.0L597.7 198.0L597.9 177.9L598.1 182.1L598.3 182.3L598.4 211.0L598.6 178.4L598.8 195.4L599.0 169.5L599.2 174.2L599.3 218.6L599.3 166.4L599.5 214.6L599.7 167.2L599.8 176.2L600.0 166.6L600.2 176.5L600.4 164.5L600.6 181.4L600.7 213.6L600.8 163.6L600.9 209.5L601.1 170.1L601.2 177.8L601.4 170.6L601.6 171.6L601.8 179.9L602.0 180.3L602.2 223.6L602.2 169.4L602.4 212.1L602.6 178.9L602.7 186.9L602.9 182.3L603.1 190.8L603.3 178.1L603.4 176.4L603.4 205.6L603.6 184.8L603.8 191.9L603.9 191.2L604.1 226.9L604.3 204.6L604.5 201.4L604.5 238.6L604.7 206.0L604.9 223.0L605.0 215.9L605.2 229.8L605.4 224.0L605.5 219.4L605.5 260.6L605.7 220.0L605.9 225.3L606.0 222.6L606.2 219.7L606.4 226.2L606.6 222.9L606.8 223.7L607.0 219.4L607.0 260.6L607.2 221.7L607.4 243.4L607.5 213.5L607.7 236.6L607.9 206.8L608.1 224.4L608.3 223.6L608.3 196.4L608.5 212.6L608.7 194.5L608.8 217.6L609.0 192.3L609.2 197.1L609.4 191.9L609.5 189.4L609.5 220.6L609.7 192.7L609.9 206.3L610.0 193.0L610.2 214.0L610.4 187.1L610.6 206.3L610.8 185.9L611.0 183.4L611.0 220.6L611.2 186.4L611.4 219.6L611.5 186.3L611.7 189.5L611.9 187.9L612.1 179.8L612.2 220.6L612.2 179.4L612.4 185.3L612.6 183.9L612.7 179.1L612.9 185.8L613.1 216.2L613.2 220.6L613.2 178.8L613.4 215.7L613.6 182.6L613.7 188.5L613.9 184.6L614.1 192.7L614.3 183.7L614.5 181.4L614.5 238.6L614.7 188.0L614.9 219.1L615.0 189.2L615.2 187.3L615.4 196.6L615.6 219.3L615.8 258.6L615.8 189.4L616.0 229.2L616.2 205.8L616.3 253.1L616.5 195.0L616.7 196.4L616.8 288.6L616.9 208.0L617.1 289.6L617.2 208.6L617.4 199.1L617.6 217.1L617.8 199.2L617.8 294.6L618.0 200.4L618.2 252.1L618.3 214.2L618.5 200.8L618.7 214.9L618.9 199.5L619.0 278.6L619.0 199.4L619.2 233.2L619.4 203.9L619.5 236.6L619.7 200.0L619.9 254.4L620.1 201.0L620.3 263.2L620.5 273.6L620.5 199.4L620.7 199.6L620.9 200.1L621.0 205.2L621.2 210.0L621.4 220.6L621.6 213.6L621.8 201.7L622.0 270.6L622.0 200.4L622.2 202.2L622.4 215.6L622.5 251.3L622.7 217.3L622.9 245.3L623.1 217.7L623.3 253.8L623.4 219.2L623.6 230.6L623.8 215.9L624.0 206.4L624.0 270.6L624.2 224.4L624.4 250.4L624.5 229.4L624.7 230.1L624.9 231.0L625.0 226.4L625.0 270.6L625.2 231.3L625.4 241.9L625.5 234.4L625.7 232.1L625.9 233.6L626.1 268.7L626.3 232.5L626.4 236.5L626.6 236.6L626.8 226.5L627.0 270.6L627.0 226.4L627.2 236.9L627.4 234.6L627.5 250.5L627.7 235.7L627.9 237.3L628.1 225.9L628.3 225.4L628.4 225.2L628.6 253.0L628.8 229.1L629.0 223.4L629.0 273.6L629.2 227.6L629.4 228.8L629.5 225.1L629.7 242.6L629.9 220.3L630.1 248.7L630.3 227.9L630.5 210.4L630.5 276.6L630.7 214.3L630.9 208.2L631.0 224.5L631.2 276.5L631.4 208.5L631.6 210.7L631.8 211.0L632.0 201.4L632.0 278.6L632.2 205.0L632.4 256.2L632.5 205.2L632.7 222.3L632.9 211.0L633.1 260.8L633.3 215.9L633.4 198.4L633.4 268.6L633.6 205.4L633.8 238.3L633.9 202.1L634.1 223.8L634.3 205.9L634.5 208.6L634.7 208.1L634.8 206.4L634.8 257.6L635.0 216.1L635.2 250.0L635.3 214.0L635.5 231.3L635.7 218.5L635.9 242.0L636.1 225.5L636.2 219.2L636.2 257.6L636.4 223.5L636.6 251.4L636.7 224.1L636.9 229.5L637.1 216.8L637.3 231.6L637.5 257.6L637.5 211.4L637.7 242.6L637.9 217.6L638.0 208.7L638.2 216.7L638.4 252.9L638.6 214.3L638.8 235.9L639.0 260.6L639.0 203.2L639.2 235.9L639.4 214.9L639.5 250.9L639.7 220.8L639.9 213.0L640.1 209.2L640.3 267.3L640.5 268.6L640.5 211.4L640.7 260.3L640.9 233.7L641.0 268.9L641.2 236.5L641.4 263.1L641.6 228.7L641.8 269.6L642.0 270.6L642.0 219.2L642.2 245.3L642.4 224.7L642.5 269.5L642.7 229.3L642.9 271.2L643.1 230.2L643.3 253.1L643.5 271.6L643.5 219.2L643.7 271.8L643.9 220.3L644.0 271.3L644.2 218.9L644.4 263.6L644.6 236.4L644.8 269.6L645.0 276.6L645.0 216.4L645.2 262.0L645.3 240.2L645.4 255.9L645.6 217.4L645.7 251.3L645.8 212.2L646.0 255.0L646.1 209.6L646.2 274.7L646.3 208.0L646.5 206.7L646.5 278.6L646.6 218.3L646.8 278.2L646.9 220.5L647.0 277.6L647.1 223.9L647.3 269.9L647.4 211.7L647.5 277.9L647.7 228.8L647.8 277.3L648.0 278.6L648.0 209.4L648.1 274.6L648.3 238.9L648.4 251.9L648.5 228.3L648.6 264.2L648.8 235.0L648.9 254.5L649.0 234.6L649.2 258.8L649.3 218.4L649.5 213.4L649.5 276.6L649.6 231.0L649.8 268.8L649.9 222.2L650.0 270.4L650.1 213.2L650.3 254.8L650.4 212.4L650.5 263.9L650.7 231.2L650.8 241.2L651.0 258.6L651.0 211.4L651.1 235.6L651.3 224.9L651.4 254.4L651.5 217.8L651.6 249.0L651.8 208.4L651.9 253.2L652.0 215.8L652.2 248.3L652.3 213.6L652.5 205.3L652.5 250.6L652.6 225.0L652.8 250.5L652.9 207.9L653.0 230.3L653.1 209.1L653.3 247.8L653.4 216.4L653.5 249.2L653.7 214.5L653.8 250.1L654.0 250.6L654.0 213.4L654.1 239.0L654.3 216.5L654.4 242.4L654.5 221.4L654.6 247.7L654.8 220.1L654.9 240.1L655.0 222.2L655.2 241.8L655.3 224.4L655.5 226.1L655.5 253.6L655.6 228.3L655.8 256.4L655.9 232.9L656.0 264.3L656.1 247.3L656.3 269.1L656.4 227.3L656.5 263.9L656.7 238.0L656.8 273.3L657.0 288.6L657.0 226.1L657.1 260.8L657.3 251.2L657.4 289.4L657.5 252.7L657.6 267.2L657.8 224.8L657.9 288.1L658.0 252.4L658.2 294.1L658.3 228.1L658.5 223.4L658.5 303.6L658.6 232.9L658.8 277.3L658.9 222.8L659.0 292.1L659.1 245.1L659.3 272.6L659.4 241.8L659.5 315.3L659.7 242.5L659.8 221.3L659.8 322.6L659.9 248.2L660.1 320.1L660.2 251.8L660.3 301.8L660.4 239.0L660.6 297.6L660.7 240.6L660.8 314.9L661.0 224.1L661.1 314.3L661.2 313.6L661.2 223.4L661.3 306.9L661.5 227.8L661.6 292.5L661.7 228.6L661.9 301.4L662.0 239.9L662.1 277.1L662.2 240.3L662.4 292.6L662.6 288.6L662.6 236.4L662.7 266.2L662.9 245.6L663.0 266.9L663.1 252.7L663.2 267.3L663.4 255.9L663.5 273.1L663.6 258.2L663.8 275.0L664.0 283.6L664.0 244.2L664.1 263.9L664.3 258.2L664.4 283.0L664.5 240.9L664.6 261.1L664.8 243.0L664.9 273.1L665.0 231.5L665.2 283.4L665.3 227.7L665.4 283.6L665.6 283.6L665.6 217.1L665.7 283.8L665.9 225.4L666.0 280.2L666.1 233.2L666.2 277.1L666.4 240.9L666.5 280.1L666.6 244.1L666.8 293.6L667.0 295.6L667.0 223.4L667.1 285.9L667.3 254.7L667.4 271.6L667.5 248.6L667.6 258.5L667.8 231.8L667.9 273.6L668.0 250.7L668.2 272.5L668.3 241.2L668.5 238.4L668.5 268.6L668.6 238.5L668.8 273.2L668.9 253.0L669.0 266.8L669.1 249.6L669.3 263.9L669.4 243.0L669.5 268.8L669.7 251.2L669.8 286.0L670.0 295.6L670.0 233.4L670.1 286.7L670.3 234.3L670.4 283.2L670.5 251.8L670.6 283.9L670.8 254.5L670.9 278.3L671.0 237.9L671.2 272.7L671.3 231.9L671.5 231.7L671.5 268.6L671.6 239.2L671.8 272.6L671.9 235.2L672.0 261.9L672.1 236.5L672.3 279.6L672.4 232.0L672.5 287.3L672.7 250.5L672.8 284.9L673.0 295.6L673.0 231.4L673.1 290.4L673.3 247.3L673.4 280.3L673.5 229.5L673.6 257.6L673.8 230.8L673.9 276.3L674.0 249.7L674.2 270.1L674.3 228.1L674.5 221.4L674.5 268.6L674.6 238.3L674.8 262.2L674.9 221.8L675.0 277.9L675.1 219.4L675.3 282.0L675.4 236.7L675.5 282.5L675.7 227.7L675.8 288.9L676.0 295.6L676.0 216.4L676.1 293.2L676.3 253.5L676.4 273.2L676.5 235.6L676.6 271.4L676.8 221.7L676.9 260.0L677.0 243.6L677.2 273.2L677.3 242.4L677.5 226.4L677.5 268.6L677.6 248.0L677.8 272.6L677.9 249.7L678.0 277.9L678.1 247.4L678.3 260.5L678.4 238.4L678.5 282.6L678.7 241.2L678.8 285.0L679.0 295.6L679.0 245.4L679.1 294.5L679.3 251.2L679.4 291.7L679.5 246.2L679.6 280.4L679.8 246.6L679.9 287.8L680.0 247.1L680.2 283.3L680.3 254.4L680.5 245.4L680.5 283.6L680.6 252.1L680.8 279.4L680.9 255.5L681.0 287.2L681.1 255.7L681.3 291.3L681.4 245.6L681.5 286.2L681.7 255.9L681.8 294.6L682.0 298.6L682.0 245.4L682.1 274.2L682.3 245.9L682.4 286.1L682.5 254.9L682.6 299.4L682.8 251.9L682.9 315.7L683.0 252.8L683.2 303.4L683.3 267.3L683.4 299.0L683.6 249.8L683.7 319.5L683.8 246.8L683.9 327.2L684.1 254.4L684.3 246.4L684.3 342.2L684.4 275.2L684.6 336.0L684.7 244.9L684.8 313.8L684.9 270.1L685.1 324.5L685.2 261.2L685.3 318.0L685.5 268.8L685.6 298.5L685.8 308.6L685.8 240.3L685.9 306.5L686.1 245.9L686.2 283.7L686.3 270.8L686.4 304.7L686.6 248.8L686.7 302.9L686.8 271.2L687.0 275.9L687.1 249.9L687.2 280.4L687.4 247.6L687.5 246.4L687.5 298.6L687.6 266.2L687.8 303.9L687.9 250.0L688.0 302.2L688.1 266.0L688.3 309.6L688.4 248.4L688.5 323.7L688.7 249.4L688.8 326.7L688.9 266.8L689.1 334.7L689.2 339.6L689.2 249.4L689.3 299.9L689.5 267.0L689.6 323.6L689.7 262.2L689.9 294.5L690.0 252.7L690.1 297.6L690.2 262.4L690.4 285.1L690.5 298.6L690.5 251.4L690.6 288.0L690.8 250.5L690.9 280.1L691.0 250.5L691.1 288.7L691.3 248.8L691.4 282.0L691.5 264.5L691.7 280.8L691.8 258.9L692.0 245.8L692.0 296.6L692.1 267.0L692.3 289.4L692.4 264.3L692.5 294.6L692.6 246.3L692.8 295.2L692.9 249.9L693.0 281.2L693.2 261.0L693.3 294.3L693.5 296.6L693.5 245.8L693.6 281.4L693.8 266.7L693.9 291.9L694.0 259.4L694.1 293.0L694.3 252.9L694.4 293.4L694.5 252.9L694.7 251.4L694.8 293.6" fill="none" stroke="#ff7f0e" stroke-width="2.78" stroke-linejoin="round" stroke-dasharray="2.78 4.59"/>
<path d="M92.4 160.9L94.3 165.4L96.8 169.2L99.4 174.9L102.6 179.4L104.5 180.7L105.7 173.0L107.7 168.6L110.8 168.0L113.4 172.4L115.9 176.2L117.2 180.0L119.1 185.8L122.3 183.2L125.5 180.0L127.4 187.0L129.3 193.4L131.2 195.3L133.8 196.0L136.3 192.1L139.5 191.5L140.8 185.8L142.1 178.1L143.3 169.2L144.6 168.6L147.1 166.7L148.4 170.5L151.0 172.4L154.2 173.7L156.7 175.6L157.3 182.0L159.2 187.0L161.9 190.6L165.7 190.6L167.0 182.3L168.3 172.7L170.2 168.9L174.0 167.6L177.8 168.3L179.1 177.8L179.7 186.8L180.4 192.5L182.3 196.3L184.2 198.2L186.1 203.3L188.0 205.2L191.2 211.0L192.5 213.5L193.8 211.6L194.4 203.3L196.3 198.2L198.2 189.3L200.8 192.5L202.7 198.2L204.5 199.5L206.5 196.3L208.4 199.5L210.3 200.8L212.2 202.0L214.8 204.6L216.7 202.0L218.0 206.0L219.9 208.4L221.8 206.0L223.7 212.2L225.6 209.0L227.5 207.1L229.4 199.5L231.3 195.0L232.6 192.5L234.0 194.0L235.8 200.8L237.3 204.0L239.0 207.1L240.2 210.4L240.2 209.8L243.1 208.2L243.5 208.6L243.6 204.8L246.0 198.1L246.1 205.3L247.0 198.6L247.1 165.4L248.5 165.4L248.6 198.6L249.5 198.6L249.6 191.4L251.9 199.8L252.0 202.0L254.4 215.4L254.5 208.1L256.9 209.8L256.9 213.7L259.4 202.0L259.4 196.4L261.8 209.1L261.9 210.4L261.9 206.4L264.2 211.1L264.4 212.0L264.4 209.8L266.6 209.8L266.9 209.6L266.9 206.4L268.6 198.1L268.7 203.6L270.7 202.2L272.0 203.1L272.1 207.0L274.0 215.5L274.5 213.2L274.6 225.4L276.5 219.2L277.0 216.5L277.1 223.7L278.9 215.3L279.5 214.8L279.6 222.1L281.4 209.9L282.0 204.8L282.1 218.7L283.7 225.4L283.8 218.2L285.5 228.8L286.2 232.1L286.2 224.9L287.9 229.1L288.7 228.8L288.8 223.2L290.4 222.0L291.2 230.4L291.2 208.1L292.8 226.7L293.7 227.1L293.8 221.5L295.3 226.5L296.2 227.1L296.2 219.9L297.7 217.1L298.7 215.4L298.8 209.8L300.2 204.8L300.5 205.3L300.6 193.1L302.0 193.1L302.1 208.6L303.4 200.3L303.8 201.4L303.9 212.0L305.2 207.0L306.6 221.9L307.1 225.4L307.2 213.2L308.5 229.4L309.8 223.5L310.5 223.4L310.6 235.5L311.8 227.1L313.1 234.5L313.8 235.5L313.9 224.9L315.1 232.5L316.3 231.4L317.2 228.2L317.2 237.1L318.4 228.1L319.6 237.0L320.0 241.6L320.1 223.4L321.2 243.2L322.0 244.6L322.1 226.4L323.1 246.9L324.0 248.6L324.1 231.4L325.1 241.5L326.0 252.6L326.1 231.4L327.1 252.8L328.0 254.6L328.1 230.4L329.1 253.7L330.1 241.4L330.4 233.4L330.4 253.6L331.4 239.9L332.5 253.5L333.0 253.6L333.1 236.4L334.0 253.1L335.0 238.2L336.0 238.4L336.1 254.6L337.0 237.1L337.9 256.2L338.5 256.6L338.6 233.4L339.4 253.8L340.4 228.6L340.6 226.4L340.7 258.6L341.5 235.1L342.0 236.4L342.1 260.6L342.9 239.3L343.8 264.8L344.5 266.6L344.6 243.4L345.4 268.7L346.3 256.0L347.0 248.4L347.1 272.6L347.9 256.1L348.7 270.3L349.5 274.6L349.6 251.4L350.3 273.1L351.2 252.9L352.0 253.4L352.1 270.6L352.8 253.8L353.6 268.8L354.4 254.2L355.0 254.4L355.1 268.6L355.8 254.9L356.6 268.3L357.1 268.6L357.2 254.4L357.9 268.3L358.6 255.5L359.0 251.4L359.1 268.6L359.7 252.6L360.5 267.8L361.0 270.6L361.1 249.4L361.7 270.7L362.5 254.1L363.0 251.4L363.1 274.6L363.7 259.5L364.4 276.3L365.0 278.6L365.1 253.4L365.7 277.9L366.4 255.6L367.1 275.1L367.3 276.6L367.4 252.4L368.0 269.2L368.7 255.7L369.0 256.4L369.1 274.6L369.7 263.6L370.3 274.6L371.0 260.3L371.6 273.0L371.8 274.6L371.9 258.4L372.4 274.4L373.1 265.6L373.7 272.1L374.0 276.6L374.1 259.4L374.6 276.8L375.3 261.6L375.9 274.4L376.5 259.4L376.9 259.4L376.9 278.6L377.5 259.5L378.1 275.9L378.7 264.9L379.3 278.2L379.5 280.6L379.6 259.4L380.0 258.4L380.1 277.1L380.6 260.4L381.2 275.6L381.8 260.1L382.3 271.6L382.9 269.1L383.2 260.4L383.2 279.6L383.8 263.1L384.3 280.4L384.9 263.4L385.4 275.1L386.0 263.9L386.5 263.4L386.6 281.9L387.0 263.5L387.6 280.5L388.1 267.7L388.7 276.5L389.2 264.0L389.7 263.4L389.8 278.6L390.2 265.6L390.7 272.8L391.3 268.3L391.8 270.6L392.3 261.0L392.8 269.5L393.0 274.6L393.1 258.4L393.5 267.1L394.0 263.4L394.5 268.3L395.0 259.2L395.5 269.5L396.0 261.1L396.2 255.4L396.2 270.6L396.7 256.6L397.2 264.4L397.7 249.8L398.1 267.3L398.6 266.6L398.7 245.4L399.1 265.4L399.5 247.9L400.0 261.7L400.5 243.6L401.0 263.9L401.1 264.1L401.2 242.4L401.6 255.1L402.0 244.4L402.5 257.2L402.9 252.4L403.4 264.2L403.8 258.1L404.3 249.1L404.4 269.0L404.7 253.4L405.2 269.7L405.6 257.6L406.1 268.4L406.5 256.9L406.9 262.9L407.4 246.3L407.6 245.8L407.7 271.6L408.0 245.8L408.5 271.8L408.9 253.8L409.3 263.8L409.7 246.5L410.0 245.8L410.1 272.2L410.4 247.6L410.8 272.2L411.2 258.4L411.7 269.2L412.1 262.5L412.4 255.4L412.4 277.1L412.8 266.7L413.2 273.0L413.6 266.4L414.0 281.1L414.4 261.5L414.8 275.5L415.2 267.7L415.6 283.9L415.7 285.2L415.8 265.4L416.1 285.4L416.5 267.0L416.9 285.2L417.3 268.9L417.6 285.1L418.0 267.3L418.4 287.9L418.8 267.7L419.2 288.6L419.5 267.9L419.9 287.7L420.3 268.4L420.5 268.4L420.6 290.1L420.9 275.6L421.2 287.2L421.6 271.7L422.0 286.3L422.3 270.8L422.7 290.8L423.1 271.1L423.4 289.9L423.8 273.0L424.1 290.6L424.5 273.3L424.8 285.0L425.2 273.2L425.4 273.4L425.4 291.6L425.7 275.3L426.1 290.4L426.4 274.3L426.8 287.1L427.1 274.2L427.5 292.0L427.8 274.1L428.2 283.5L428.5 275.2L428.8 292.2L429.2 282.8L429.5 288.7L429.8 282.7L430.0 274.4L430.1 292.6L430.3 275.4L430.7 286.8L431.0 274.4L431.3 292.6L431.6 280.3L432.0 290.8L432.3 280.3L432.6 292.1L432.8 293.6L432.9 274.4L433.1 286.3L433.4 274.7L433.8 290.0L434.1 275.3L434.4 293.2L434.7 282.4L435.0 275.4L435.1 293.6L435.3 277.1L435.6 287.8L435.9 276.1L436.2 289.1L436.6 283.1L436.9 290.6L437.2 275.9L437.5 275.4L437.6 294.6L437.8 279.7L438.1 286.0L438.4 281.6L438.7 292.9L439.0 276.9L439.3 294.8L439.6 281.1L439.9 294.7L440.2 275.9L440.5 275.4L440.6 295.0L440.8 275.6L441.1 295.5L441.4 277.3L441.7 294.2L442.0 276.5L442.3 295.5L442.5 297.6L442.6 276.4L442.8 291.9L443.1 276.8L443.4 298.7L443.7 280.1L444.0 290.5L444.3 300.1L444.4 277.4L444.6 290.6L444.9 281.3L445.2 299.8L445.5 286.3L445.8 289.1L446.1 286.9L446.4 296.7L446.8 299.6L446.9 278.4L447.1 298.1L447.4 282.3L447.7 293.1L448.0 289.2L448.3 297.1L448.6 281.8L449.0 279.4L449.1 299.6L449.3 280.5L449.6 297.0L449.9 282.8L450.2 299.4L450.5 282.3L450.8 292.0L451.0 300.6L451.1 280.4L451.3 300.2L451.6 281.1L451.9 300.1L452.2 288.0L452.5 300.3L452.8 287.6L453.2 280.4L453.2 301.6L453.5 289.8L453.8 294.0L454.1 287.9L454.4 302.5L454.7 283.5L455.0 281.4L455.1 303.6L455.3 286.6L455.6 303.6L455.9 276.4L456.2 290.6L456.5 281.5L456.8 303.4L457.0 306.6L457.1 256.4L457.3 306.8L457.6 267.9L457.9 306.5L458.3 309.0L458.4 281.4L458.6 304.9L458.9 283.1L459.2 299.9L459.5 288.3L459.8 303.7L460.0 308.6L460.1 283.4L460.3 300.3L460.6 285.4L460.9 304.2L461.2 286.1L461.5 309.1L461.8 285.4L462.0 285.4L462.1 310.6L462.3 293.4L462.6 300.9L462.9 285.9L463.2 305.2L463.5 286.2L463.8 310.1L464.0 312.6L464.1 286.4L464.3 311.5L464.6 297.6L464.9 310.8L465.2 291.0L465.5 312.1L465.8 289.0L466.0 288.4L466.1 314.1L466.3 289.3L466.6 313.6L466.9 288.8L467.2 309.5L467.5 295.6L467.8 307.5L468.0 312.6L468.1 289.4L468.3 311.7L468.6 300.9L468.9 312.2L469.2 292.6L469.5 310.9L469.8 291.5L470.1 302.5L470.4 296.9L470.7 311.5L471.0 311.6L471.1 292.4L471.3 311.8L471.6 299.6L471.9 311.6L472.2 295.1L472.5 313.0L472.8 296.1L473.0 295.4L473.1 314.6L473.3 299.2L473.6 314.6L473.9 300.2L474.2 316.5L474.5 300.5L474.9 298.4L474.9 317.6L475.2 302.0L475.5 317.8L475.8 306.7L476.1 311.1L476.4 304.1L476.7 319.4L477.0 300.4L477.4 300.4L477.4 322.6L477.7 305.3L478.0 322.3L478.3 302.4L478.6 320.8L478.9 303.7L479.2 320.1L479.5 324.6L479.6 304.4L479.8 319.1L480.1 305.5L480.4 321.3L480.7 306.9L481.0 324.4L481.2 325.6L481.2 307.4L481.5 321.0L481.8 316.1L482.1 325.1L482.4 313.0L482.7 325.1L483.0 316.1L483.3 326.1L483.6 312.3L483.8 308.4L483.9 326.6L484.1 308.5L484.4 324.0L484.7 313.7L485.0 319.5L485.3 314.2L485.6 324.6L485.9 310.5L486.3 309.2L486.4 327.6L486.6 311.9L486.9 323.3L487.2 309.8L487.5 321.9L487.8 310.1L488.1 316.6L488.4 306.2L488.7 317.2L488.9 328.1L488.9 299.0L489.2 320.2L489.5 301.6L489.8 319.0L490.1 302.0L490.4 318.6L490.7 311.3L491.0 317.2L491.4 328.1L491.4 301.4L491.7 317.3L492.0 309.1L492.3 324.4L492.6 306.0L493.0 306.4L493.1 326.6L493.3 310.2L493.6 317.8L493.9 306.8L494.2 324.4L494.5 310.5L494.8 315.9L495.0 323.6L495.1 304.4L495.3 323.5L495.6 304.8L495.9 324.3L496.2 307.8L496.5 318.0L496.8 305.5L497.1 319.1L497.4 305.1L497.7 325.5L498.0 308.4L498.4 305.4L498.4 326.6L498.7 311.4L499.0 324.1L499.3 310.2L499.6 325.4L499.9 306.5L500.2 323.9L500.5 304.8L500.8 326.5L501.1 306.0L501.4 322.2L501.7 327.1L501.8 304.4L502.0 326.7L502.3 303.4L502.6 314.8L502.9 306.6L503.2 325.0L503.5 307.9L503.8 320.0L504.1 307.6L504.4 322.7L504.7 302.0L505.1 294.9L505.2 327.6L505.4 296.1L505.7 324.9L506.0 300.3L506.3 326.9L506.6 301.9L507.0 301.4L507.1 327.9L507.3 312.0L507.6 327.4L507.9 302.5L508.2 326.8L508.5 303.3L508.8 328.3L509.1 313.9L509.4 324.8L509.7 304.1L510.0 304.4L510.1 328.6L510.3 307.8L510.6 328.2L510.9 307.2L511.2 317.8L511.5 316.0L511.8 326.7L512.1 311.8L512.4 325.7L512.7 304.5L513.0 326.7L513.3 312.3L513.4 304.4L513.4 328.6L513.7 311.2L514.0 321.5L514.3 314.8L514.6 325.4L514.9 307.8L515.2 318.0L515.5 311.4L515.8 316.0L516.0 325.6L516.0 299.4L516.3 315.5L516.6 301.0L516.9 323.0L517.2 304.4L517.5 324.1L517.8 301.0L518.1 322.1L518.4 300.5L518.7 322.8L519.0 305.0L519.3 321.6L519.6 300.3L519.9 315.2L520.1 322.0L520.1 300.4L520.4 312.3L520.7 300.7L521.0 316.9L521.3 300.0L521.6 321.5L521.9 300.0L522.2 317.4L522.5 303.0L522.8 314.4L523.1 304.2L523.4 315.5L523.5 322.0L523.5 299.1L523.8 313.3L524.1 303.4L524.4 321.4L524.7 300.4L525.0 314.0L525.1 322.0L525.1 300.4L525.4 315.2L525.7 305.4L526.0 313.4L526.3 308.7L526.6 323.0L526.9 301.9L527.2 323.9L527.5 312.3L527.8 317.3L528.1 302.2L528.4 328.4L528.5 328.6L528.5 302.4L528.8 326.5L529.1 314.5L529.4 320.2L529.7 314.0L530.0 330.8L530.2 331.2L530.2 306.4L530.5 330.9L530.8 314.5L531.1 329.6L531.4 309.1L531.7 321.3L531.8 332.6L531.8 308.4L532.1 332.7L532.4 311.0L532.7 323.3L533.0 314.1L533.3 323.2L533.6 308.5L533.9 329.5L534.0 333.6L534.0 307.4L534.3 320.4L534.6 304.6L534.9 331.2L535.2 317.5L535.5 333.9L535.8 309.2L536.0 297.4L536.0 334.6L536.3 308.8L536.6 333.5L536.9 317.6L537.2 324.9L537.5 304.3L537.8 320.3L538.1 317.5L538.4 331.5L538.5 334.6L538.5 308.4L538.8 334.4L539.1 316.7L539.4 329.8L539.7 316.3L540.0 333.7L540.2 333.6L540.2 310.0L540.5 330.8L540.8 317.8L541.1 327.2L541.4 310.8L541.7 331.7L542.0 313.0L542.3 330.4L542.6 321.5L542.9 323.1L543.2 311.2L543.5 328.2L543.6 332.1L543.6 311.4L543.9 332.2L544.2 319.3L544.5 330.0L544.8 320.2L545.1 324.4L545.2 333.6L545.2 311.4L545.5 324.1L545.8 312.1L546.1 334.2L546.4 318.9L546.7 332.3L547.0 319.4L547.3 332.9L547.6 315.0L547.9 329.6L548.0 335.6L548.0 313.4L548.3 334.4L548.6 316.4L548.9 334.7L549.2 319.1L549.5 337.1L549.8 316.7L550.1 333.8L550.3 337.9L550.3 314.4L550.6 332.8L550.9 324.5L551.2 337.7L551.5 326.4L551.8 334.1L551.9 340.6L551.9 315.0L552.2 339.2L552.5 319.0L552.8 340.5L553.1 320.6L553.4 343.4L553.6 343.8L553.6 314.4L553.9 331.8L554.2 315.8L554.5 343.7L554.8 313.5L555.1 341.9L555.4 314.0L555.7 332.8L556.0 343.6L556.0 312.4L556.3 341.2L556.6 324.8L556.9 341.9L557.2 312.3L557.5 327.9L557.8 342.6L557.8 309.4L558.1 330.8L558.4 325.3L558.7 342.2L559.0 314.3L559.3 335.8L559.6 318.0L559.9 342.1L560.2 319.1L560.3 319.4L560.3 342.1L560.6 321.5L560.9 341.3L561.2 326.8L561.5 333.1L561.8 324.6L562.0 325.0L562.0 342.6L562.3 330.5L562.6 339.6L562.9 331.4L563.2 333.8L563.5 332.1L563.8 343.0L564.1 329.2L564.4 337.5L564.7 325.0L565.0 323.4L565.0 343.6L565.3 323.1L565.6 337.8L565.9 326.7L566.2 337.8L566.5 328.2L566.8 338.3L567.1 321.1L567.4 334.2L567.7 331.7L568.0 343.6L568.3 327.7L568.6 334.0L568.7 345.5L568.8 319.4L569.0 343.1L569.3 318.4L569.6 340.5L569.9 323.9L570.2 343.6L570.5 346.6L570.5 311.4L570.8 337.8L571.1 325.9L571.4 344.4L571.7 322.6L572.0 303.4L572.0 347.6L572.3 303.3L572.6 339.6L572.9 317.7L573.2 343.8L573.5 302.6L573.7 300.4L573.8 347.6L574.0 303.7L574.3 345.0L574.6 308.2L574.9 344.7L575.2 309.1L575.5 309.4L575.5 348.6L575.8 317.5L576.1 347.8L576.4 314.8L576.7 345.1L577.0 348.8L577.0 316.4L577.3 334.4L577.6 313.3L577.9 348.1L578.2 319.8L578.5 341.2L578.8 303.2L579.0 301.4L579.0 348.6L579.3 322.9L579.6 347.6L579.9 307.1L580.2 347.1L580.5 312.4L580.8 344.7L581.1 301.9L581.2 289.9L581.2 348.6L581.5 308.2L581.8 333.8L582.1 291.5L582.4 345.6L582.7 298.1L583.0 339.8L583.3 302.5L583.6 347.9L583.7 348.0L583.8 286.4L584.0 348.0L584.3 285.3L584.6 327.7L584.9 285.1L585.2 330.2L585.4 348.6L585.4 283.2L585.7 342.1L586.0 315.2L586.3 336.7L586.6 311.6L586.9 348.8L587.0 349.1L587.0 293.4L587.3 327.7L587.6 301.1L587.9 349.3L588.2 318.9L588.5 348.3L588.7 349.6L588.8 304.4L589.0 339.9L589.3 304.0L589.6 345.2L589.9 308.7L590.2 345.0L590.4 349.6L590.4 303.4L590.7 333.8L591.0 304.6L591.3 330.3L591.6 302.5L591.9 327.6L592.0 350.6L592.0 301.4L592.3 348.8L592.6 313.2L592.9 329.9L593.2 313.8L593.5 333.7L593.8 303.2L594.1 329.1L594.4 303.5L594.7 341.1L595.0 320.5L595.3 338.4L595.4 352.6L595.4 304.4L595.7 339.7L596.0 313.7L596.3 329.1L596.6 307.0L596.9 332.3L597.0 350.6L597.0 306.4L597.3 337.4L597.6 312.8L597.9 347.7L598.2 321.0L598.5 351.9L598.8 352.6L598.8 323.4L599.1 342.5L599.4 335.5L599.7 345.7L600.0 327.4L600.3 328.4L600.3 353.6L600.6 335.3L600.9 343.1L601.2 335.6L601.5 343.3L601.8 340.9L602.1 348.2L602.4 336.8L602.7 353.2L603.0 337.8L603.3 353.3L603.6 332.1L603.7 331.4L603.8 354.6L604.0 332.7L604.3 353.7L604.6 331.7L604.9 354.7L605.2 332.7L605.5 354.6L605.8 332.0L606.1 349.1L606.4 340.1L606.7 354.2L607.0 355.6L607.0 332.4L607.3 349.7L607.6 341.2L607.9 355.7L608.2 336.3L608.5 351.7L608.8 332.9L609.1 346.4L609.4 340.2L609.7 352.6L610.0 336.1L610.3 347.9L610.6 332.9L610.9 347.1L611.2 336.1L611.5 355.0L611.8 333.7L612.1 352.8L612.4 333.2L612.7 348.3L613.0 335.0L613.3 347.0L613.6 343.7L613.7 333.2L613.8 356.3L614.0 340.5L614.3 356.3L614.6 333.9L614.9 351.9L615.2 343.6L615.5 352.0L615.8 334.8L616.1 349.0L616.4 335.8L616.7 352.7L617.0 335.8L617.3 346.2L617.6 337.8L617.9 356.8L618.2 338.3L618.5 355.1L618.8 357.1L618.8 333.4L619.1 356.8L619.4 336.3L619.7 356.3L620.0 344.1L620.3 356.5L620.6 336.9L620.9 357.1L621.2 334.5L621.5 352.1L621.8 336.4L622.1 351.9L622.4 337.3L622.7 352.6L623.0 334.2L623.3 347.0L623.6 338.4L623.9 357.1L624.2 341.7L624.5 356.8L624.8 335.4L625.1 352.1L625.4 342.9L625.5 333.4L625.5 357.1L625.8 333.7L626.1 356.1L626.4 336.6L626.7 351.7L627.0 336.0L627.3 351.4L627.6 345.2L627.9 357.4L628.2 335.4L628.5 349.9L628.8 341.3L629.1 346.6L629.4 334.8L629.7 356.9L630.0 338.8L630.3 349.4L630.6 341.2L630.9 354.3L631.2 333.6L631.5 351.9L631.8 334.2L632.1 333.4L632.1 358.0L632.4 333.4L632.7 358.1L633.0 334.7L633.3 356.4L633.6 336.9L633.9 355.7L634.2 336.4L634.5 353.2L634.8 333.5L635.1 350.2L635.4 338.7L635.7 350.0L636.0 337.0L636.3 354.7L636.6 341.8L636.9 352.9L637.2 333.7L637.5 348.9L637.8 333.2L638.1 357.6L638.4 341.5L638.7 356.0L639.0 332.9L639.3 348.1L639.6 337.2L639.9 358.7L640.2 334.0L640.5 332.4L640.5 358.8L640.8 333.9L641.1 357.7L641.4 339.3L641.7 358.0L642.0 332.5L642.3 348.9L642.6 336.7L642.9 355.6L643.2 342.6L643.5 352.4L643.8 341.9L644.1 357.0L644.4 333.6L644.7 357.0L645.0 335.3L645.3 354.0L645.6 332.9L645.9 354.1L646.2 343.8L646.5 351.0L646.8 332.4L647.1 355.3L647.4 337.5L647.7 358.1L648.0 345.0L648.3 350.1L648.6 336.4L648.9 332.4L648.9 358.0L649.2 335.8L649.5 352.8L649.8 334.4L650.1 353.6L650.4 335.7L650.7 356.3L651.0 335.3L651.3 357.6L651.6 337.3L651.9 356.9L652.2 333.5L652.5 357.2L652.8 339.7L653.1 354.9L653.4 336.9L653.7 354.1L654.0 337.0L654.3 355.7L654.6 333.6L654.9 350.0L655.2 339.2L655.5 356.8L655.6 357.1L655.6 332.9L655.9 356.6L656.2 334.1L656.5 348.9L656.8 333.5L657.1 355.4L657.4 334.3L657.7 352.6L658.0 336.4L658.3 353.9L658.6 333.4L658.9 331.4L658.9 354.6L659.2 342.3L659.5 347.3L659.8 331.1L660.1 350.2L660.4 330.2L660.6 329.8L660.6 352.6L660.9 340.3L661.2 351.1L661.5 338.3L661.8 350.5L662.1 328.3L662.3 327.4L662.3 350.4L662.6 328.3L662.9 348.9L663.2 327.4L663.5 348.0L663.8 327.2L664.0 324.8L664.0 349.6L664.3 324.5L664.6 344.3L664.9 329.6L665.2 348.4L665.5 322.8L665.6 322.4L665.6 348.8L665.9 322.0L666.2 348.1L666.5 324.9L666.8 342.9L667.1 332.6L667.4 338.6L667.7 320.1L668.0 346.7L668.3 319.5L668.6 347.2L668.9 318.2L669.0 318.1L669.0 347.1L669.3 322.0L669.6 332.3L669.9 329.8L670.2 342.1L670.5 317.7L670.6 316.9L670.6 340.4L670.9 318.1L671.2 331.2L671.5 316.4L671.8 337.0L672.1 324.7L672.4 331.6L672.7 315.9L673.0 335.0L673.3 320.4L673.6 337.3L673.9 323.1L674.0 314.7L674.0 337.1L674.3 319.6L674.6 335.0L674.9 315.2L675.2 335.8L675.5 322.4L675.8 334.9L676.1 316.7L676.4 329.3L676.7 316.4L677.0 327.1L677.3 312.7L677.6 328.6L677.9 311.8L678.2 327.4L678.5 317.0L678.8 329.9L679.0 332.0L679.0 310.4L679.3 325.8L679.6 313.9L679.9 331.3L680.2 307.4L680.5 330.2L680.7 330.6L680.8 305.4L681.0 324.2L681.3 313.4L681.6 329.0L681.9 314.8L682.2 328.5L682.5 305.6L682.8 319.1L683.1 303.5L683.4 318.3L683.7 301.8L684.0 301.4L684.0 327.0L684.3 302.2L684.6 317.4L684.9 306.1L685.2 325.6L685.5 303.1L685.8 321.7L686.1 299.5L686.4 313.6L686.7 299.0L687.0 313.1L687.3 304.6L687.4 298.4L687.4 323.6L687.7 303.5L688.0 321.3L688.3 298.0L688.6 319.3L688.9 308.1L689.0 296.4L689.0 322.0L689.3 296.2L689.6 318.5L689.9 300.3L690.2 308.8L690.5 301.4L690.8 308.8L691.1 300.8L691.4 317.2L691.7 305.1L692.0 319.0L692.3 300.5L692.4 293.4L692.4 318.6L692.7 293.1L693.0 317.2L693.3 292.6L693.6 313.6L693.9 299.5L694.2 307.5L694.5 295.9L694.7 291.4L694.8 313.6" fill="none" stroke="#2ca02c" stroke-width="2.78" stroke-linejoin="round" stroke-dasharray="10.28 4.45"/>
<rect x="82.70" y="17.10" width="619.30" height="353.30" fill="none" stroke="#000" stroke-width="1.48" stroke-linejoin="miter"/>
<path d="M127.37 370.40v3.7M152.42 370.40v3.7M171.86 370.40v3.7M187.74 370.40v3.7M201.16 370.40v3.7M212.79 370.40v3.7M223.05 370.40v3.7M292.60 370.40v3.7M327.92 370.40v3.7M352.97 370.40v3.7M372.41 370.40v3.7M388.29 370.40v3.7M401.71 370.40v3.7M413.34 370.40v3.7M423.60 370.40v3.7M493.15 370.40v3.7M528.47 370.40v3.7M553.52 370.40v3.7M572.96 370.40v3.7M588.84 370.40v3.7M602.26 370.40v3.7M613.89 370.40v3.7M624.15 370.40v3.7" stroke="#000" stroke-width="1.1" fill="none"/>
<path d="M92.05 370.40v6.9M232.23 370.40v6.9M432.78 370.40v6.9M633.33 370.40v6.9M693.70 370.40v6.9M82.70 338.28h-6.5M82.70 274.05h-6.5M82.70 209.81h-6.5M82.70 145.57h-6.5M82.70 81.34h-6.5M82.70 17.10h-6.5" stroke="#000" stroke-width="1.48" fill="none"/>
<text x="91.25" y="396.7" text-anchor="middle" class="t" textLength="23.0" lengthAdjust="spacingAndGlyphs">20</text>
<text x="231.43" y="396.7" text-anchor="middle" class="t" textLength="34.7" lengthAdjust="spacingAndGlyphs">100</text>
<text x="432.78" y="396.7" text-anchor="middle" class="t" textLength="21.1" lengthAdjust="spacingAndGlyphs">1k</text>
<text x="633.13" y="396.7" text-anchor="middle" class="t" textLength="33.6" lengthAdjust="spacingAndGlyphs">10k</text>
<text x="693.70" y="396.7" text-anchor="middle" class="t" textLength="33.8" lengthAdjust="spacingAndGlyphs">20k</text>
<text x="69.0" y="344.98" text-anchor="end" class="t" textLength="11.0" lengthAdjust="spacingAndGlyphs">0</text>
<text x="69.0" y="280.75" text-anchor="end" class="t" textLength="22.4" lengthAdjust="spacingAndGlyphs">20</text>
<text x="69.0" y="216.51" text-anchor="end" class="t" textLength="22.4" lengthAdjust="spacingAndGlyphs">40</text>
<text x="69.0" y="152.27" text-anchor="end" class="t" textLength="22.4" lengthAdjust="spacingAndGlyphs">60</text>
<text x="69.0" y="88.04" text-anchor="end" class="t" textLength="22.4" lengthAdjust="spacingAndGlyphs">80</text>
<text x="69.0" y="23.80" text-anchor="end" class="t" textLength="34.9" lengthAdjust="spacingAndGlyphs">100</text>
<text x="391.7" y="422.9" text-anchor="middle" class="t" textLength="138.8" lengthAdjust="spacingAndGlyphs">Frequency (Hz)</text>
<text transform="translate(22.9 193.4) rotate(-90)" x="0" y="0" text-anchor="middle" class="t" textLength="79.0" lengthAdjust="spacingAndGlyphs">SPL (dB)</text>
<rect x="92.0" y="274.0" width="176.5" height="86.7" rx="3.7" ry="3.7" fill="#fff" fill-opacity="0.8" stroke="#cccccc" stroke-opacity="0.8" stroke-width="1.85"/>
<path d="M99.6 288.5H136.4" stroke="#1f77b4" stroke-width="2.78" stroke-linecap="square" fill="none"/>
<path d="M99.3 316.1H136.1" stroke="#ff7f0e" stroke-width="2.78" stroke-dasharray="2.78 4.59" fill="none"/>
<path d="M99.3 343.4H136.1" stroke="#2ca02c" stroke-width="2.78" stroke-dasharray="10.28 4.45" fill="none"/>
<text x="151.2" y="295" class="t" textLength="110.0" lengthAdjust="spacingAndGlyphs">Combustion</text>
<text x="151.0" y="322.2" class="t" textLength="72.4" lengthAdjust="spacingAndGlyphs">Air Only</text>
<text x="150.2" y="349.3" class="t" textLength="68.7" lengthAdjust="spacingAndGlyphs">No flow</text>
</svg></body></html>
